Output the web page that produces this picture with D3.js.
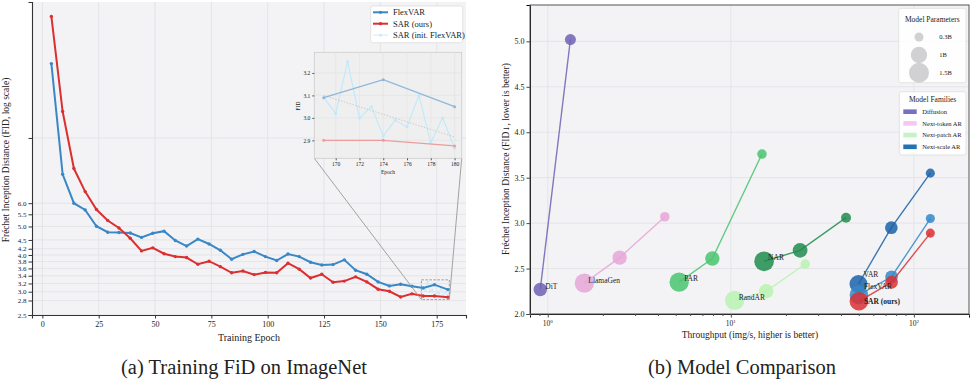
<!DOCTYPE html>
<html>
<head>
<meta charset="utf-8">
<script src="https://cdn.jsdelivr.net/npm/d3@7"></script>
<style>
body { margin: 0; background: #fff; }
text { font-family: "Liberation Serif", "Times New Roman", serif; fill: #222; }
</style>
</head>
<body>
<svg id="fig" width="977" height="387"></svg>
<script>
// ---- (a) training curves ----
const epochs = [4, 9, 14, 19, 24, 29, 34, 39, 44, 49, 54, 59, 64, 69, 74, 79, 84, 89, 94, 99,
                104, 109, 114, 119, 124, 129, 134, 139, 144, 149, 154, 159, 164, 169, 174, 180];
const flexvarFid = [17.9, 7.52, 6.0, 5.69, 5.01, 4.78, 4.77, 4.75, 4.59, 4.74, 4.82, 4.48, 4.29, 4.53, 4.36, 4.15, 3.87, 4.02, 4.11, 3.95,
                    3.83, 4.03, 3.95, 3.78, 3.70, 3.71, 3.85, 3.55, 3.44, 3.24, 3.14, 3.18, 3.13, 3.09, 3.17, 3.05];
const sarFid = [25.9, 12.3, 7.87, 6.57, 5.71, 5.24, 4.94, 4.56, 4.13, 4.23, 4.04, 3.95, 3.92, 3.72, 3.81, 3.65, 3.48, 3.53, 3.43, 3.49,
                3.48, 3.75, 3.58, 3.34, 3.44, 3.23, 3.26, 3.37, 3.24, 3.06, 3.01, 2.88, 2.95, 2.90, 2.90, 2.875];
const initEpochs = [169, 170, 171, 172, 173, 174, 175, 176, 177, 178, 179, 180];
const sarInitFid = [3.09, 3.02, 3.25, 3.00, 3.05, 2.92, 2.99, 2.96, 3.10, 2.89, 3.00, 2.865];
const trendEpochs = [169, 180];
const trendFid = [3.10, 2.915];
const fidTicks = [2.5, 2.8, 3.0, 3.2, 3.4, 3.6, 3.8, 4.0, 4.2, 4.5, 5.0, 5.5, 6.0, 10];
const epochTicks = [0, 25, 50, 75, 100, 125, 150, 175];
const insetXTicks = [170, 172, 174, 176, 178, 180];
const insetYTicks = [2.9, 3.0, 3.1, 3.2];

// ---- (b) model comparison ----
const families = ['Diffusion', 'Next-token AR', 'Next-patch AR', 'Next-scale AR'];
const modelNames = ['DiT', 'LlamaGen', 'PAR', 'RandAR', 'NAR', 'VAR', 'FlexVAR', 'SAR (ours)'];
const modelThroughput = [[0.91, 1.33], [1.585, 2.47, 4.36], [5.22, 7.93, 14.8], [10.5, 15.6, 25.5],
                         [15.2, 23.9, 42.6], [49.8, 75.3, 123], [50.1, 75.5, 123], [50.1, 75.5, 123]];
const modelFid = [[2.27, 5.02], [2.34, 2.62, 3.07], [2.35, 2.61, 3.76], [2.15, 2.25, 2.55],
                  [2.58, 2.70, 3.06], [2.33, 2.95, 3.55], [2.21, 2.41, 3.05], [2.14, 2.35, 2.89]];
const modelParams = [[0.675, 0.458], [1.4, 0.775, 0.343], [1.4, 0.775, 0.343], [1.4, 0.775, 0.343],
                     [1.46, 0.816, 0.372], [1.2, 0.6, 0.31], [1.3, 0.6, 0.31], [1.3, 0.6, 0.31]];
const paramLegend = [0.3, 1, 1.5];
const fidTicksR = [2.0, 2.5, 3.0, 3.5, 4.0, 4.5, 5.0];
const throughputTicks = [1, 10, 100];

// styles
const modelColors = ['#6f62b3', '#e6a6d8', '#49c46f', '#b9f2b0', '#1e8c4c', '#1a62a8', '#3288c8', '#dc2f33'];
const familyColors = ['#7a6fbd', '#f6c8f1', '#c6f3c6', '#2373b1'];
const labelOffset = [[5, -3], [4, -3], [5, -4], [4, -3], [4, -4], [5, -10], [5, -9], [5, 0]];

const svg = d3.select('#fig');
const BG = '#f3f3f6', GRID = '#e1e1e6';

// ================= left chart =================
const L = { x0: 32, x1: 466, y0: 2, y1: 315 };
const xL = d3.scaleLinear().domain([-4.6, 188]).range([L.x0, L.x1]);
const yL = d3.scaleLog().domain([2.5, 29]).range([L.y1, L.y0]);
const gL = svg.append('g');

gL.append('rect').attr('x', L.x0).attr('y', L.y0).attr('width', L.x1 - L.x0).attr('height', L.y1 - L.y0).attr('fill', BG);
gL.selectAll('.hg').data(fidTicks).join('line')
    .attr('x1', L.x0).attr('x2', L.x1).attr('y1', d => yL(d)).attr('y2', d => yL(d))
    .attr('stroke', GRID).attr('stroke-width', 0.8);
gL.selectAll('.vg').data(epochTicks).join('line')
    .attr('y1', L.y0).attr('y2', L.y1).attr('x1', d => xL(d)).attr('x2', d => xL(d))
    .attr('stroke', GRID).attr('stroke-width', 0.8);

const axL = gL.append('g').attr('transform', `translate(${L.x0},0)`)
    .call(d3.axisLeft(yL).tickValues(fidTicks).tickSize(3.5).tickPadding(2)
        .tickFormat(d => d === 10 ? '' : d3.format('.1f')(d)));
const axB = gL.append('g').attr('transform', `translate(0,${L.y1})`)
    .call(d3.axisBottom(xL).tickValues(epochTicks).tickSize(3.5).tickPadding(3));
[axL, axB].forEach(a => {
    a.select('.domain').attr('stroke', '#333').attr('stroke-width', 1.1);
    a.selectAll('.tick line').attr('stroke', '#333');
    a.selectAll('text').style('font-family', '"Liberation Serif", serif').attr('font-size', 7).attr('fill', '#333');
});
axB.selectAll('text').attr('font-size', 8);

gL.append('text').text('Fréchet Inception Distance (FID, log scale)')
    .attr('transform', 'translate(9,160) rotate(-90)').attr('text-anchor', 'middle').attr('font-size', 9.5);
gL.append('text').text('Training Epoch').attr('x', 249).attr('y', 341).attr('text-anchor', 'middle').attr('font-size', 10);

const lineL = (xs, ys, xsc, ysc) => d3.line().x((d, i) => xsc(xs[i])).y(d => ysc(d))(ys);

function drawSeries(g, xs, ys, xsc, ysc, color, width, r, op) {
    g.append('path').attr('d', lineL(xs, ys, xsc, ysc)).attr('fill', 'none')
        .attr('stroke', color).attr('stroke-width', width).attr('stroke-opacity', op);
    g.selectAll(null).data(ys).join('circle')
        .attr('cx', (d, i) => xsc(xs[i])).attr('cy', d => ysc(d)).attr('r', r)
        .attr('fill', color).attr('fill-opacity', op);
}

drawSeries(gL, initEpochs, sarInitFid, xL, yL, '#bfe9fa', 0.8, 1, 0.9);
drawSeries(gL, epochs, flexvarFid, xL, yL, '#3a87c6', 2, 1.7, 1);
drawSeries(gL, epochs, sarFid, xL, yL, '#db2f30', 2, 1.7, 1);

// inset
const I = { x0: 314.3, x1: 461.7, y0: 52.3, y1: 158.3 };
const xI = d3.scaleLinear().domain([168.2, 180.6]).range([I.x0, I.x1]);
const yI = d3.scaleLinear().domain([2.82, 3.292]).range([I.y1, I.y0]);

// zoom box in main chart and connectors
const bx0 = xL(168.2), bx1 = xL(180.6), by0 = yL(3.292), by1 = yL(2.82);
gL.append('rect').attr('x', bx0).attr('y', by0).attr('width', bx1 - bx0).attr('height', by1 - by0)
    .attr('fill', 'none').attr('stroke', '#888').attr('stroke-width', 0.8).attr('stroke-dasharray', '2.5,1.5');
gL.append('line').attr('x1', I.x0).attr('y1', I.y1).attr('x2', bx0).attr('y2', by1).attr('stroke', '#999').attr('stroke-width', 0.9);
gL.append('line').attr('x1', I.x1).attr('y1', I.y1).attr('x2', bx1).attr('y2', by1).attr('stroke', '#999').attr('stroke-width', 0.9);

const gI = gL.append('g');
gI.append('rect').attr('x', I.x0).attr('y', I.y0).attr('width', I.x1 - I.x0).attr('height', I.y1 - I.y0)
    .attr('fill', '#efeff0').attr('stroke', '#ccc').attr('stroke-width', 0.8);
gI.selectAll('.ig').data(insetYTicks).join('line')
    .attr('x1', I.x0).attr('x2', I.x1).attr('y1', d => yI(d)).attr('y2', d => yI(d)).attr('stroke', '#e2e2e2').attr('stroke-width', 0.6);
gI.selectAll('.ivg').data(insetXTicks).join('line')
    .attr('y1', I.y0).attr('y2', I.y1).attr('x1', d => xI(d)).attr('x2', d => xI(d)).attr('stroke', '#e2e2e2').attr('stroke-width', 0.6);
const iaL = gI.append('g').attr('transform', `translate(${I.x0},0)`)
    .call(d3.axisLeft(yI).tickValues(insetYTicks).tickSize(2).tickPadding(2).tickFormat(d3.format('.1f')));
const iaB = gI.append('g').attr('transform', `translate(0,${I.y1})`)
    .call(d3.axisBottom(xI).tickValues(insetXTicks).tickSize(2).tickPadding(2));
[iaL, iaB].forEach(a => {
    a.select('.domain').remove();
    a.selectAll('.tick line').attr('stroke', '#555');
    a.selectAll('text').style('font-family', '"Liberation Serif", serif').attr('font-size', 5.5).attr('fill', '#333');
});
gI.append('text').text('FID').attr('transform', 'translate(300,106) rotate(-90)').attr('text-anchor', 'middle').attr('font-size', 5.5);
gI.append('text').text('Epoch').attr('x', (I.x0 + I.x1) / 2).attr('y', 174).attr('text-anchor', 'middle').attr('font-size', 5.5);

const iFlexE = epochs.slice(-3), iFlexF = flexvarFid.slice(-3), iSarF = sarFid.slice(-3);
drawSeries(gI, initEpochs, sarInitFid, xI, yI, '#bfe9fa', 1.1, 1.5, 1);
gI.append('path').attr('d', lineL(trendEpochs, trendFid, xI, yI)).attr('fill', 'none')
    .attr('stroke', '#bbb').attr('stroke-width', 0.7).attr('stroke-dasharray', '1.5,1.5');
drawSeries(gI, iFlexE, iFlexF, xI, yI, '#8fb6da', 1.2, 1.5, 1);
drawSeries(gI, iFlexE, iSarF, xI, yI, '#ec9c9d', 1.2, 1.5, 1);

// legend (a)
const legA = gL.append('g');
legA.append('rect').attr('x', 370.7).attr('y', 6).attr('width', 92).attr('height', 36.7).attr('rx', 2)
    .attr('fill', '#fff').attr('stroke', '#ddd').attr('stroke-width', 0.8);
const legNames = ['FlexVAR', 'SAR (ours)', 'SAR (init. FlexVAR)'];
const legColors = ['#3a87c6', '#db2f30', '#c9eefb'];
legNames.forEach((n, i) => {
    const y = 12.3 + i * 11.4;
    legA.append('line').attr('x1', 373).attr('x2', 388).attr('y1', y).attr('y2', y)
        .attr('stroke', legColors[i]).attr('stroke-width', i < 2 ? 2 : 1);
    legA.append('circle').attr('cx', 380.5).attr('cy', y).attr('r', 1.6).attr('fill', legColors[i]);
    legA.append('text').text(n).attr('x', 393).attr('y', y).attr('dy', '0.35em').attr('font-size', 8.5);
});

// ================= right chart =================
const R = { x0: 530, x1: 969, y0: 5, y1: 314 };
const xR = d3.scaleLog().domain([0.8, 200]).range([R.x0, R.x1]);
const yR = d3.scaleLinear().domain([2.0, 5.4]).range([R.y1, R.y0]);
const rR = d3.scaleSqrt().domain([0, 1.5]).range([0, 10]);
const gR = svg.append('g');

gR.append('rect').attr('x', R.x0).attr('y', R.y0).attr('width', R.x1 - R.x0).attr('height', R.y1 - R.y0).attr('fill', BG);
gR.selectAll('.hg').data(fidTicksR).join('line')
    .attr('x1', R.x0).attr('x2', R.x1).attr('y1', d => yR(d)).attr('y2', d => yR(d)).attr('stroke', GRID).attr('stroke-width', 0.8);
gR.selectAll('.vg').data(throughputTicks).join('line')
    .attr('y1', R.y0).attr('y2', R.y1).attr('x1', d => xR(d)).attr('x2', d => xR(d)).attr('stroke', GRID).attr('stroke-width', 0.8);

const minorTicks = xR.ticks().filter(t => !throughputTicks.includes(t));
const axRL = gR.append('g').attr('transform', `translate(${R.x0},0)`)
    .call(d3.axisLeft(yR).tickValues(fidTicksR).tickSize(3.5).tickPadding(2).tickFormat(d3.format('.1f')));
const axRB = gR.append('g').attr('transform', `translate(0,${R.y1})`)
    .call(d3.axisBottom(xR).tickValues(throughputTicks).tickSize(3.5).tickPadding(3).tickFormat(''));
const axRm = gR.append('g').attr('transform', `translate(0,${R.y1})`)
    .call(d3.axisBottom(xR).tickValues(minorTicks).tickSize(2).tickFormat(''));
axRm.select('.domain').remove();
[axRL, axRB, axRm].forEach(a => {
    a.selectAll('.tick line').attr('stroke', '#444');
    a.selectAll('text').style('font-family', '"Liberation Serif", serif').attr('font-size', 8).attr('fill', '#333');
});
throughputTicks.forEach(t => {
    const tx = axRB.append('text').attr('x', xR(t)).attr('y', 12).attr('text-anchor', 'middle')
        .style('font-family', '"Liberation Serif", serif').attr('font-size', 7.5).attr('fill', '#333');
    tx.append('tspan').text('10');
    tx.append('tspan').text(Math.round(Math.log10(t))).attr('font-size', 5).attr('dy', -3.2);
});
gR.append('rect').attr('x', R.x0).attr('y', R.y0).attr('width', R.x1 - R.x0).attr('height', R.y1 - R.y0)
    .attr('fill', 'none').attr('stroke', '#555').attr('stroke-width', 1);

const yLab = gR.append('text').attr('transform', 'translate(509,159) rotate(-90)')
    .attr('text-anchor', 'middle').attr('font-size', 9.5);
yLab.append('tspan').text('Fréchet Inception Distance (FID');
yLab.append('tspan').text('\u2193').style('font-family', '"DejaVu Serif", "DejaVu Sans", serif').attr('font-size', 7.5);
yLab.append('tspan').text(', lower is better)');
gR.append('text').text('Throughput (img/s, higher is better)').attr('x', 750).attr('y', 338)
    .attr('text-anchor', 'middle').attr('font-size', 9.5);

modelNames.forEach((name, m) => {
    const xs = modelThroughput[m], ys = modelFid[m];
    gR.append('path').attr('d', lineL(xs, ys, xR, yR)).attr('fill', 'none')
        .attr('stroke', modelColors[m]).attr('stroke-width', 1.4).attr('stroke-opacity', 0.85);
    gR.append('g').selectAll('circle').data(ys).join('circle')
        .attr('cx', (d, i) => xR(xs[i])).attr('cy', d => yR(d)).attr('r', (d, i) => rR(modelParams[m][i]))
        .attr('fill', modelColors[m]).attr('fill-opacity', 0.85);
});
modelNames.forEach((name, m) => {
    gR.append('text').text(name)
        .attr('x', xR(modelThroughput[m][0]) + labelOffset[m][0]).attr('y', yR(modelFid[m][0]) + labelOffset[m][1])
        .attr('dy', '0.35em').attr('font-size', 7.5)
        .attr('font-weight', m === modelNames.length - 1 ? 'bold' : 'normal');
});

// legend: params
const lp = gR.append('g');
lp.append('rect').attr('x', 898.7).attr('y', 8.3).attr('width', 67.3).attr('height', 74.4).attr('rx', 2)
    .attr('fill', '#fff').attr('fill-opacity', 0.85).attr('stroke', '#ddd').attr('stroke-width', 0.8);
lp.append('text').text('Model Parameters').attr('x', 932.3).attr('y', 19.3).attr('dy', '0.35em')
    .attr('text-anchor', 'middle').attr('font-size', 7.5);
paramLegend.forEach((p, i) => {
    const y = [37, 55, 72.7][i];
    lp.append('circle').attr('cx', 919).attr('cy', y).attr('r', rR(p)).attr('fill', '#c9c9cd').attr('fill-opacity', 0.85);
    lp.append('text').text(p + 'B').attr('x', 939.3).attr('y', y).attr('dy', '0.35em').attr('font-size', 6.5);
});

// legend: families
const lf = gR.append('g');
lf.append('rect').attr('x', 899.3).attr('y', 91.7).attr('width', 66.7).attr('height', 63.3).attr('rx', 2)
    .attr('fill', '#fff').attr('fill-opacity', 0.85).attr('stroke', '#ddd').attr('stroke-width', 0.8);
lf.append('text').text('Model Families').attr('x', 932.6).attr('y', 99.5).attr('dy', '0.35em')
    .attr('text-anchor', 'middle').attr('font-size', 7.5);
families.forEach((f, i) => {
    const y = 111.7 + i * 11.7;
    lf.append('rect').attr('x', 903.3).attr('y', y - 2.3).attr('width', 13.4).attr('height', 4.6).attr('fill', familyColors[i]);
    lf.append('text').text(f).attr('x', 922.3).attr('y', y).attr('dy', '0.35em').attr('font-size', 6.5);
});

// captions
svg.append('text').text('(a) Training FiD on ImageNet').attr('x', 244).attr('y', 374)
    .attr('text-anchor', 'middle').attr('font-size', 20.5);
svg.append('text').text('(b) Model Comparison').attr('x', 742).attr('y', 374)
    .attr('text-anchor', 'middle').attr('font-size', 20.5);
</script>
</body>
</html>
